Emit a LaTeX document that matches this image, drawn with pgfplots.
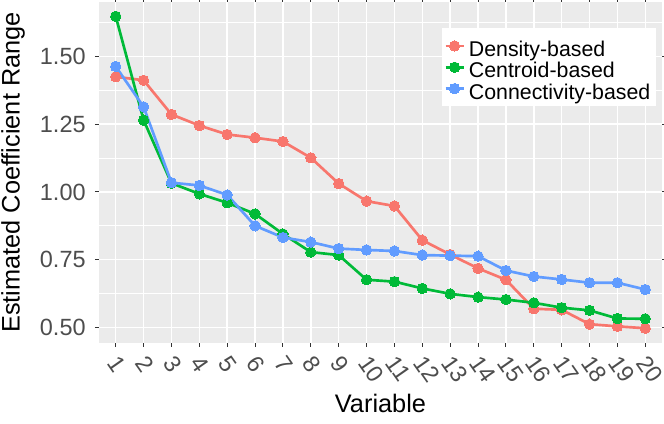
\documentclass[border=0pt]{standalone}
\usepackage{pgfplots}
\pgfplotsset{compat=1.18}
\usepackage{fontspec}
\setmainfont{Liberation Sans}
\definecolor{cred}{HTML}{F8766D}
\definecolor{cgreen}{HTML}{00BA38}
\definecolor{cblue}{HTML}{619CFF}
\definecolor{panel}{HTML}{EBEBEB}
\definecolor{ticklab}{HTML}{4D4D4D}
\definecolor{tickc}{HTML}{333333}
\begin{document}
\begin{tikzpicture}
\path[use as bounding box] (-74.25pt,-60.75pt) rectangle (423.75pt,257.25pt);
\begin{axis}[
  at={(0,0)}, anchor=south west,
  scale only axis, width=422.25pt, height=255.75pt,
  xmin=0.4, xmax=20.6, ymin=0.4426, ymax=1.7008,
  axis background/.style={fill=panel},
  axis line style={draw=none},
  xtick={1,...,20},
  ytick={0.5,0.75,1.0,1.25,1.5},
  yticklabels={0.50,0.75,1.00,1.25,1.50},
  minor ytick={0.625,0.875,1.125,1.375,1.625},
  grid=both,
  major grid style={white, line width=1.1pt},
  minor grid style={white, line width=0.55pt},
  tick align=outside,
  major tick length=3pt, minor tick length=0pt,
  tick style={tickc, line width=0.8pt},
  /pgf/number format/assume math mode=true,
  ticklabel style={font=\fontsize{17.6}{20}\selectfont, text=ticklab},
  xticklabel style={xshift=-2.25pt, yshift=-8.5pt, rotate=-55, anchor=west, inner sep=0pt},
  yticklabel style={anchor=east, xshift=-3.5pt},
  xlabel={Variable},
  ylabel={Estimated Coefficient Range},
  label style={font=\fontsize{19}{22}\selectfont},
  xlabel style={at={(axis description cs:0.5,-0.176)}, anchor=center},
  ylabel style={at={(axis description cs:-0.1528,0.5)}, anchor=center},
  legend style={at={(rel axis cs:0.6092,0.9238)}, anchor=north west,
    draw=none, fill=white, inner xsep=1.5pt, inner ysep=5.25pt,
    font=\fontsize{16}{15}\selectfont,
    nodes={text height=16pt, text depth=0pt, inner ysep=0pt, inner xsep=3pt}},
  legend cell align=left,
  legend image code/.code={%
    \draw[#1, mark=none] (-1.5pt,0pt) -- (12pt,0pt);
    \draw[#1, draw=none] plot coordinates {(5.25pt,0pt)};},
]
% lines
\addplot[cred, line width=2pt, forget plot] coordinates {
(1,1.425)(2,1.412)(3,1.286)(4,1.245)(5,1.212)(6,1.200)(7,1.186)(8,1.126)(9,1.031)(10,0.966)
(11,0.948)(12,0.822)(13,0.769)(14,0.718)(15,0.676)(16,0.569)(17,0.565)(18,0.512)(19,0.504)(20,0.497)};
\addplot[cgreen, line width=2pt, forget plot] coordinates {
(1,1.648)(2,1.265)(3,1.032)(4,0.993)(5,0.960)(6,0.919)(7,0.845)(8,0.778)(9,0.767)(10,0.676)
(11,0.669)(12,0.644)(13,0.624)(14,0.612)(15,0.603)(16,0.591)(17,0.573)(18,0.563)(19,0.533)(20,0.532)};
\addplot[cblue, line width=2pt, forget plot] coordinates {
(1,1.463)(2,1.314)(3,1.034)(4,1.024)(5,0.989)(6,0.875)(7,0.832)(8,0.815)(9,0.791)(10,0.786)
(11,0.782)(12,0.767)(13,0.765)(14,0.763)(15,0.710)(16,0.688)(17,0.677)(18,0.665)(19,0.665)(20,0.640)};
% points
\addplot[cred, line width=2pt, only marks, mark=*, mark size=3.9pt, mark options={line width=0pt}] coordinates {
(1,1.425)(2,1.412)(3,1.286)(4,1.245)(5,1.212)(6,1.200)(7,1.186)(8,1.126)(9,1.031)(10,0.966)
(11,0.948)(12,0.822)(13,0.769)(14,0.718)(15,0.676)(16,0.569)(17,0.565)(18,0.512)(19,0.504)(20,0.497)};
\addlegendentry{Density-based}
\addplot[cgreen, line width=2pt, only marks, mark=*, mark size=3.9pt, mark options={line width=0pt}] coordinates {
(1,1.648)(2,1.265)(3,1.032)(4,0.993)(5,0.960)(6,0.919)(7,0.845)(8,0.778)(9,0.767)(10,0.676)
(11,0.669)(12,0.644)(13,0.624)(14,0.612)(15,0.603)(16,0.591)(17,0.573)(18,0.563)(19,0.533)(20,0.532)};
\addlegendentry{Centroid-based}
\addplot[cblue, line width=2pt, only marks, mark=*, mark size=3.9pt, mark options={line width=0pt}] coordinates {
(1,1.463)(2,1.314)(3,1.034)(4,1.024)(5,0.989)(6,0.875)(7,0.832)(8,0.815)(9,0.791)(10,0.786)
(11,0.782)(12,0.767)(13,0.765)(14,0.763)(15,0.710)(16,0.688)(17,0.677)(18,0.665)(19,0.665)(20,0.640)};
\addlegendentry{Connectivity-based}
\end{axis}
\end{tikzpicture}
\end{document}
